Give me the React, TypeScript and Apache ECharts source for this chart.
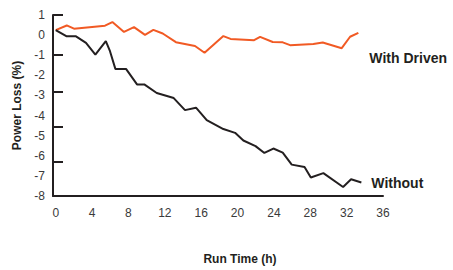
import React, { useEffect, useRef } from "react";
import * as echarts from "echarts";

const xTickLabels = [0, 4, 8, 12, 16, 20, 24, 28, 32, 36];
const yTickMarks = [1, -1, -2.8, -4.55, -6.3];

const withDrivenHours = [0, 1.21, 2.01, 5.42, 6.23, 7.51, 8.61, 9.82, 10.74, 11.77, 13.22, 15.32, 16.37, 18.44, 19.23, 21.82, 22.48, 23.87, 24.97, 25.78, 28.34, 29.37, 31.46, 32.38, 33.29];
const withDrivenLoss = [0.25, 0.48, 0.32, 0.47, 0.65, 0.16, 0.4, 0.01, 0.26, 0.08, -0.35, -0.54, -0.88, -0.05, -0.19, -0.25, -0.09, -0.34, -0.36, -0.5, -0.44, -0.37, -0.65, -0.08, 0.11];

const withoutHours = [0, 1.21, 2.23, 3.33, 4.36, 5.51, 5.97, 6.56, 7.73, 8.94, 9.74, 11.11, 12.98, 14.22, 15.43, 16.61, 18.44, 19.73, 20.64, 21.98, 22.95, 23.94, 24.97, 25.96, 27.37, 28.06, 29.44, 31.61, 32.49, 33.62];
const withoutLoss = [0.25, -0.06, -0.06, -0.39, -0.97, -0.3, -0.8, -1.68, -1.68, -2.45, -2.45, -2.88, -3.13, -3.73, -3.61, -4.23, -4.67, -4.86, -5.24, -5.52, -5.86, -5.64, -5.84, -6.44, -6.56, -7.08, -6.86, -7.55, -7.17, -7.33];

const FONT = "'Liberation Sans', Arial, sans-serif";
const INK = "#231F20";
const ORANGE = "#F15A24";

export default function App() {
  const ref = useRef<HTMLDivElement>(null);
  useEffect(() => {
    if (!ref.current) return;
    const chart = echarts.init(ref.current, undefined, { renderer: "svg" });
    chart.setOption({
      animation: false,
      textStyle: { fontFamily: FONT },
      grid: { left: 53, top: 15, right: 70, bottom: 70, containLabel: false },
      xAxis: {
        type: "value",
        min: -0.3,
        max: 36,
        splitLine: { show: false },
        axisLine: { show: true, onZero: false, lineStyle: { color: INK, width: 2 } },
        axisTick: { show: false },
        axisLabel: {
          customValues: xTickLabels,
          color: "#3a3a3a",
          fontSize: 12,
          fontFamily: FONT,
          margin: 11,
        },
        name: "Run Time (h)",
        nameLocation: "middle",
        nameGap: 57,
        nameTextStyle: {
          color: INK,
          fontWeight: "bold",
          fontSize: 12,
          fontFamily: FONT,
          padding: [0, 0, 0, 44],
        },
      },
      yAxis: {
        type: "value",
        min: -8,
        max: 1,
        interval: 1,
        splitLine: { show: false },
        axisLine: { show: true, onZero: false, lineStyle: { color: INK, width: 2 } },
        axisTick: {
          show: true,
          inside: true,
          length: 10,
          customValues: yTickMarks,
          lineStyle: { color: INK, width: 2 },
        },
        axisLabel: { color: "#3a3a3a", fontSize: 12, fontFamily: FONT, margin: 8 },
        name: "Power Loss (%)",
        nameLocation: "middle",
        nameGap: 23,
        nameTextStyle: { color: INK, fontWeight: "bold", fontSize: 12, fontFamily: FONT },
      },
      series: [
        {
          type: "line",
          name: "With Driven",
          data: withDrivenHours.map((h, i) => [h, withDrivenLoss[i]]),
          showSymbol: false,
          lineStyle: { color: ORANGE, width: 2 },
          itemStyle: { color: ORANGE },
          endLabel: {
            show: true,
            formatter: "With Driven",
            offset: [3, 25],
            color: INK,
            fontWeight: "bold",
            fontSize: 14,
            fontFamily: FONT,
          },
        },
        {
          type: "line",
          name: "Without",
          data: withoutHours.map((h, i) => [h, withoutLoss[i]]),
          showSymbol: false,
          lineStyle: { color: INK, width: 2 },
          itemStyle: { color: INK },
          endLabel: {
            show: true,
            formatter: "Without",
            offset: [2, 0],
            color: INK,
            fontWeight: "bold",
            fontSize: 14,
            fontFamily: FONT,
          },
        },
      ],
    });
    return () => chart.dispose();
  }, []);
  return <div ref={ref} style={{ width: 453, height: 270, position: "absolute", left: 0, top: 0 }} />;
}
